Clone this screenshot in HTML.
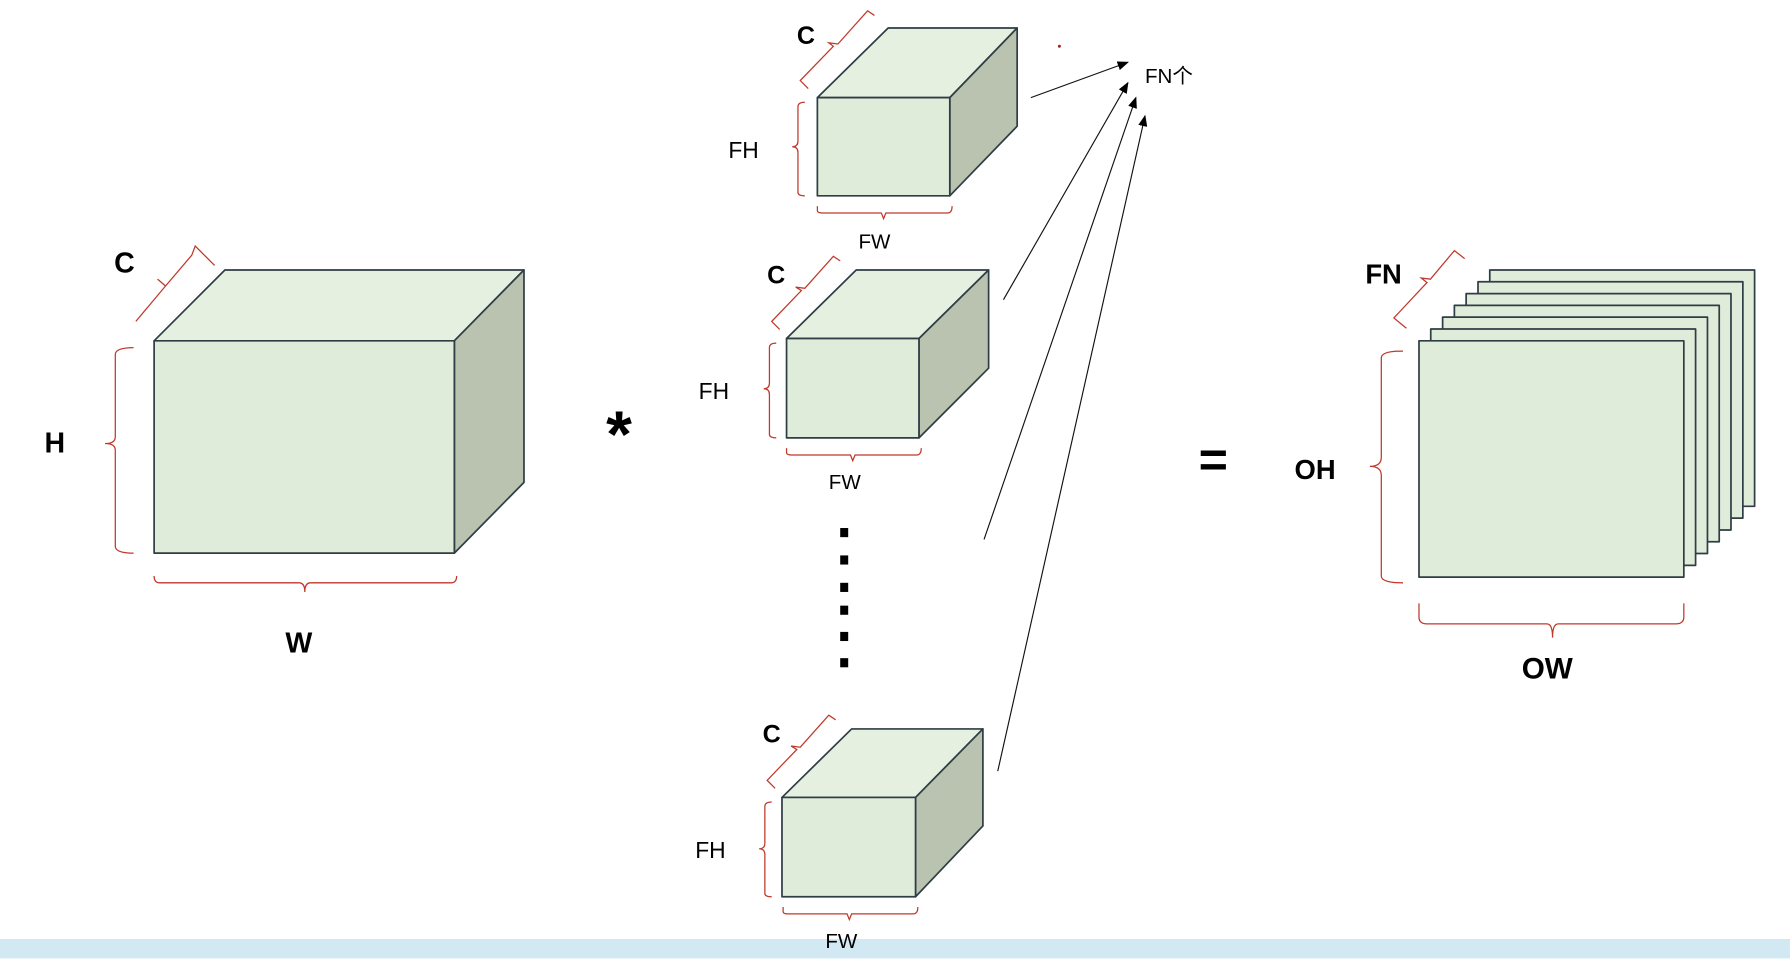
<!DOCTYPE html>
<html><head><meta charset="utf-8"><style>
html,body{margin:0;padding:0;background:#fff;overflow:hidden}
svg{display:block}
text{font-family:"Liberation Sans","Noto Sans CJK SC",sans-serif;fill:#000}
</style></head><body>
<svg width="1790" height="959" viewBox="0 0 1568 839" xmlns="http://www.w3.org/2000/svg">
<defs>
<marker id="ah" markerWidth="10" markerHeight="8" refX="9" refY="4" orient="auto" markerUnits="userSpaceOnUse">
<path d="M0,0 L10,4 L0,8 z" fill="#000"/></marker>
</defs>
<rect x="0" y="822" width="1568" height="17" fill="#d2e8f2"/>
<g stroke="#2f3d45" stroke-width="1.5" stroke-linejoin="round">
<!-- main cube -->
<polygon points="135,298 197,236 459,236 398,298" fill="#e6f0e0"/>
<polygon points="398,298 459,236 459,422 398,484" fill="#b9c3b0"/>
<rect x="135" y="298" width="263" height="186" fill="#e0ecda"/>
<!-- filter 1 -->
<polygon points="716,85 778,24 891,24 832,85" fill="#e6f0e0"/>
<polygon points="832,85 891,24 891,110 832,171" fill="#b9c3b0"/>
<rect x="716" y="85" width="116" height="86" fill="#e0ecda"/>
<!-- filter 2 -->
<polygon points="689,296 750,236 866,236 805,296" fill="#e6f0e0"/>
<polygon points="805,296 866,236 866,322 805,383" fill="#b9c3b0"/>
<rect x="689" y="296" width="116" height="87" fill="#e0ecda"/>
<!-- filter 3 -->
<polygon points="685,698 746,638 861,638 802,698" fill="#e6f0e0"/>
<polygon points="802,698 861,638 861,723 802,785" fill="#b9c3b0"/>
<rect x="685" y="698" width="117" height="87" fill="#e0ecda"/>
<!-- output stack -->
<rect x="1305" y="236" width="232" height="207" fill="#e0ecda"/>
<rect x="1294.7" y="246.3" width="232" height="207" fill="#e0ecda"/>
<rect x="1284.3" y="256.7" width="232" height="207" fill="#e0ecda"/>
<rect x="1274" y="267" width="232" height="207" fill="#e0ecda"/>
<rect x="1263.7" y="277.3" width="232" height="207" fill="#e0ecda"/>
<rect x="1253.3" y="287.7" width="232" height="207" fill="#e0ecda"/>
<rect x="1243" y="298" width="232" height="207" fill="#e0ecda"/>
</g>
<!-- braces -->
<g stroke="#c0392b" stroke-width="1.1" fill="none">
<path d="M117,304 Q101,304 101,310 L101,382 Q101,388 92,388 Q101,388 101,394 L101,478 Q101,484 117,484"/>
<path d="M135,504 Q135,510 140,510 L262,510 Q267,510 267,518 Q267,510 272,510 L395,510 Q400,510 400,504"/>
<path d="M129,269 L119,281 L145,250 L138,244 L145,250 L168,223 L171,215 L188,232"/>
<path d="M705,89 Q699,89 699,93 L699,123 Q699,128 694,128 Q699,128 699,133 L699,168 Q699,171 705,171"/>
<path d="M716,180 L716,184 Q716,186 720,186 L772,186 L774,191 L776,186 L830,186 Q834,186 834,180"/>
<path d="M708,77 L701,70 L730,40 L726,37 L734,38 L760,9 L766,13"/>
<path d="M680,300 Q674,300 674,304 L674,335 Q674,340 669,340 Q674,340 674,345 L674,380 Q674,383 680,383"/>
<path d="M689,392 L689,396 Q689,398 693,398 L745,398 L747,403 L749,398 L803,398 Q807,398 807,392"/>
<path d="M683,288 L676,281 L702,254 L697,251 L705,252 L730,224 L736,228"/>
<path d="M676,702 Q670,702 670,706 L670,738 Q670,743 665,743 Q670,743 670,748 L670,782 Q670,785 676,785"/>
<path d="M686,794 L686,798 Q686,800 690,800 L742,800 L744,805 L746,800 L800,800 Q804,800 804,794"/>
<path d="M679,690 L672,683 L698,656 L693,653 L701,654 L726,626 L732,630"/>
<path d="M1229,307 Q1210,307 1210,313 L1210,400 Q1210,408 1200,408 Q1210,408 1210,416 L1210,504 Q1210,510 1229,510"/>
<path d="M1243,528 L1243,540 Q1243,546 1250,546 L1355,546 Q1360,546 1360,558 Q1360,546 1365,546 L1468,546 Q1475,546 1475,540 L1475,528"/>
<path d="M1232,287 L1221,278 L1250,247 L1245,243 L1253,244 L1274,219 L1283,226"/>
</g>
<circle cx="928" cy="40" r="1.3" fill="#a02020"/>
<!-- arrows -->
<g stroke="#111" stroke-width="1" marker-end="url(#ah)">
<line x1="903" y1="85" x2="988" y2="54"/>
<line x1="879" y1="262" x2="988" y2="72"/>
<line x1="862" y1="472" x2="995" y2="85"/>
<line x1="874" y1="675" x2="1003" y2="101"/>
</g>
<!-- dots -->
<g fill="#000">
<rect x="736" y="462" width="7" height="8"/>
<rect x="736" y="486" width="7" height="8"/>
<rect x="736" y="510" width="7" height="8"/>
<rect x="736" y="530" width="7" height="8"/>
<rect x="736" y="553" width="7" height="8"/>
<rect x="736" y="576" width="7" height="8"/>
</g>
<!-- labels -->
<g font-weight="bold">
<text x="100" y="238" font-size="25">C</text>
<text x="39" y="396" font-size="25">H</text>
<text x="250" y="571" font-size="25">W</text>
<text x="1196" y="248" font-size="24">FN</text>
<text x="1134" y="419" font-size="24">OH</text>
<text x="1333" y="594" font-size="26">OW</text>
<text x="698" y="38" font-size="22">C</text>
<text x="672" y="248" font-size="22">C</text>
<text x="668" y="650" font-size="22">C</text>
<text x="531" y="400" font-size="58">*</text>
<text x="1050" y="417" font-size="44">=</text>
</g>
<g font-size="20">
<text x="638" y="138">FH</text>
<text x="612" y="349">FH</text>
<text x="609" y="751">FH</text>
</g>
<g font-size="18">
<text x="752" y="217">FW</text>
<text x="726" y="428">FW</text>
<text x="723" y="830">FW</text>
<text x="1003" y="72">FN个</text>
</g>
</svg>
</body></html>
